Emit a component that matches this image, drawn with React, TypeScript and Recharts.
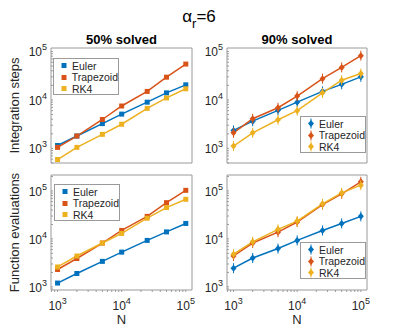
import React from 'react';
import { LineChart, Line, XAxis, YAxis, Legend, ReferenceArea } from 'recharts';

// problem sizes on the x axis
const N_VALUES = [1000, 2000, 5000, 10000, 25000, 50000, 100000];
const SERIES = ['Euler', 'Trapezoid', 'RK4'];
const COLORS = ['#0072BD', '#D95319', '#EDB120'];

// tick positions of a log axis: decades get a label, the rest are minor marks
const DECADE_TICKS = [1000, 10000, 100000];
const MINOR_TICKS = [
  500, 600, 700, 800, 900,
  2000, 3000, 4000, 5000, 6000, 7000, 8000, 9000,
  20000, 30000, 40000, 50000, 60000, 70000, 80000, 90000,
  200000,
];

// integration steps, 50% solved
const STEPS_50_EULER = [1150, 1800, 3250, 5100, 9000, 14000, 20500];
const STEPS_50_TRAP = [1050, 1800, 3950, 7500, 15000, 29500, 55000];
const STEPS_50_RK4 = [590, 1050, 1950, 3150, 6700, 11000, 17000];

// integration steps, 90% solved
const STEPS_90_EULER = [2350, 3650, 6100, 9000, 15000, 21000, 30000];
const STEPS_90_TRAP = [2100, 4100, 6900, 12000, 27500, 47000, 82000];
const STEPS_90_RK4 = [1120, 2100, 3900, 6000, 14000, 25500, 35000];

// function evaluations, 50% solved
const EVALS_50_EULER = [1200, 1900, 3400, 5300, 9300, 14000, 21000];
const EVALS_50_TRAP = [2300, 3900, 8200, 15000, 29500, 57000, 103000];
const EVALS_50_RK4 = [2600, 4400, 8200, 13000, 27000, 45000, 67000];

// function evaluations, 90% solved
const EVALS_90_EULER = [2450, 4000, 6300, 9300, 15000, 21000, 29500];
const EVALS_90_TRAP = [4400, 8200, 13800, 22500, 52000, 87000, 155000];
const EVALS_90_RK4 = [4800, 8700, 15800, 23500, 54000, 91000, 132000];

const X_DOMAIN = [790, 125000];
const Y_DOMAIN_STEPS = [500, 118000];
const Y_DOMAIN_EVALS = [860, 215000];

const FONT = '"Liberation Sans", Arial, sans-serif';
const INK = '#262626';
const FRAME = '#9a9a9a';

const AXIS_W = 36;
const PAD = 4;
const PAD_TOP = 12;
const BOX_H = 115;
const X_AXIS_H = 24;
const TICK_LEN = 2;

function buildRows(euler: number[], trap: number[], rk4: number[]) {
  return N_VALUES.map((n, i) => ({ n, Euler: euler[i], Trapezoid: trap[i], RK4: rk4[i] }));
}

function ticksIn(domain: number[]) {
  return [...DECADE_TICKS, ...MINOR_TICKS]
    .filter((t) => t >= domain[0] && t <= domain[1])
    .sort((a, b) => a - b);
}

const isDecade = (v: number) => DECADE_TICKS.includes(v);

function PowerLabel({ x, y, value, anchor, dy }: any) {
  return (
    <text x={x} y={y} dy={dy} textAnchor={anchor} fill={INK} fontSize={12} fontFamily={FONT}>
      10<tspan dy={-6} fontSize={9}>{Math.round(Math.log10(value))}</tspan>
    </text>
  );
}

// side: which box edge the axis sits on; marks point into the box
const EdgeTick = (props: any) => {
  const { x, y, payload, side, label } = props;
  const v = payload.value;
  let mark;
  if (side === 'bottom') mark = <line x1={x} x2={x} y1={y} y2={y - TICK_LEN} stroke={FRAME} />;
  else if (side === 'top') mark = <line x1={x} x2={x} y1={y} y2={y + TICK_LEN} stroke={FRAME} />;
  else if (side === 'left') mark = <line x1={x + 4} x2={x + 4 + TICK_LEN} y1={y} y2={y} stroke={FRAME} />;
  else mark = <line x1={x} x2={x - TICK_LEN} y1={y} y2={y} stroke={FRAME} />;
  return (
    <g>
      {mark}
      {label && isDecade(v) && side === 'bottom' && <PowerLabel x={x} y={y} value={v} anchor="middle" dy={18} />}
      {label && isDecade(v) && side === 'left' && <PowerLabel x={x} y={y} value={v} anchor="end" dy={5} />}
    </g>
  );
};

function Marker({ cx, cy, color, diamond }: { cx: number; cy: number; color: string; diamond: boolean }) {
  if (!diamond) {
    return <rect x={cx - 2.5} y={cy - 2.5} width={5} height={5} fill={color} />;
  }
  return (
    <g>
      <line x1={cx} x2={cx} y1={cy - 5} y2={cy + 5} stroke={color} strokeWidth={1} />
      <polygon points={`${cx},${cy - 3.5} ${cx + 3},${cy} ${cx},${cy + 3.5} ${cx - 3},${cy}`} fill={color} />
    </g>
  );
}

function LegendBox({ payload, diamond }: any) {
  const entries = [...(payload || [])].sort(
    (a: any, b: any) => SERIES.indexOf(a.value) - SERIES.indexOf(b.value)
  );
  return (
    <div
      style={{
        boxSizing: 'border-box',
        width: 66,
        height: 37,
        border: `1px solid ${FRAME}`,
        background: '#fff',
        padding: '1px 0 0 3px',
        fontFamily: FONT,
        fontSize: 10.5,
        color: INK,
      }}
    >
      {entries.map((e: any) => (
        <div key={e.value} style={{ display: 'flex', alignItems: 'center', height: 11.5 }}>
          <svg width={14} height={11} style={{ marginRight: 1 }}>
            <Marker cx={7} cy={5.5} color={e.color} diamond={diamond} />
          </svg>
          <span>{e.value}</span>
        </div>
      ))}
    </div>
  );
}

function Panel({
  left,
  top,
  width,
  rows,
  yDomain,
  showX,
  diamond,
  legendLeft,
  legendTop,
}: {
  left: number;
  top: number;
  width: number;
  rows: any[];
  yDomain: number[];
  showX: boolean;
  diamond: boolean;
  legendLeft: number;
  legendTop: number;
}) {
  const chartLeft = left - AXIS_W;
  const chartTop = top - PAD_TOP;
  const height = PAD_TOP + BOX_H + (showX ? X_AXIS_H : 0) + PAD;
  const xTicks = ticksIn(X_DOMAIN);
  const yTicks = ticksIn(yDomain);
  return (
    <div style={{ position: 'absolute', left: chartLeft, top: chartTop }}>
      <LineChart
        width={AXIS_W + width + PAD}
        height={height}
        data={rows}
        margin={{ top: PAD_TOP, right: PAD, bottom: PAD, left: 0 }}
      >
        <XAxis
          dataKey="n"
          type="number"
          scale="log"
          domain={X_DOMAIN}
          ticks={xTicks}
          interval={0}
          allowDataOverflow
          height={showX ? X_AXIS_H : 0}
          axisLine={false}
          tickLine={false}
          tickSize={0}
          tick={<EdgeTick side="bottom" label={showX} />}
        />
        <XAxis
          xAxisId="top"
          orientation="top"
          dataKey="n"
          type="number"
          scale="log"
          domain={X_DOMAIN}
          ticks={xTicks}
          interval={0}
          allowDataOverflow
          height={0}
          axisLine={false}
          tickLine={false}
          tickSize={0}
          tick={<EdgeTick side="top" />}
        />
        <YAxis
          type="number"
          scale="log"
          domain={yDomain}
          ticks={yTicks}
          interval={0}
          allowDataOverflow
          width={AXIS_W}
          axisLine={false}
          tickLine={false}
          tickSize={0}
          tickMargin={4}
          tick={<EdgeTick side="left" label />}
        />
        <YAxis
          yAxisId="right"
          orientation="right"
          type="number"
          scale="log"
          domain={yDomain}
          ticks={yTicks}
          interval={0}
          allowDataOverflow
          width={0}
          axisLine={false}
          tickLine={false}
          tickSize={0}
          tick={<EdgeTick side="right" />}
        />
        <ReferenceArea
          x1={X_DOMAIN[0]}
          x2={X_DOMAIN[1]}
          y1={yDomain[0]}
          y2={yDomain[1]}
          fill="none"
          stroke={FRAME}
          strokeWidth={1}
        />
        <Legend
          layout="vertical"
          align="center"
          verticalAlign="middle"
          wrapperStyle={{ left: legendLeft - chartLeft, top: legendTop - chartTop, width: 'auto', height: 'auto' }}
          content={(p: any) => <LegendBox payload={p.payload} diamond={diamond} />}
        />
        {SERIES.map((name, i) => (
          <Line
            key={name}
            dataKey={name}
            type="linear"
            stroke={COLORS[i]}
            strokeWidth={1.5}
            activeDot={false}
            isAnimationActive={false}
            dot={(d: any) => (
              <Marker key={`${name}-${d.index}`} cx={d.cx} cy={d.cy} color={COLORS[i]} diamond={diamond} />
            )}
          />
        ))}
      </LineChart>
    </div>
  );
}

export default function App() {
  return (
    <div
      style={{
        position: 'absolute',
        left: 0,
        top: 0,
        width: 399,
        height: 328,
        background: '#fff',
        overflow: 'hidden',
      }}
    >
      <Panel left={51} top={48} width={141} rows={buildRows(STEPS_50_EULER, STEPS_50_TRAP, STEPS_50_RK4)}
        yDomain={Y_DOMAIN_STEPS} showX={false} diamond={false} legendLeft={53} legendTop={58} />
      <Panel left={227} top={48} width={140} rows={buildRows(STEPS_90_EULER, STEPS_90_TRAP, STEPS_90_RK4)}
        yDomain={Y_DOMAIN_STEPS} showX={false} diamond legendLeft={300} legendTop={116} />
      <Panel left={51} top={175} width={141} rows={buildRows(EVALS_50_EULER, EVALS_50_TRAP, EVALS_50_RK4)}
        yDomain={Y_DOMAIN_EVALS} showX diamond={false} legendLeft={54} legendTop={184} />
      <Panel left={227} top={175} width={140} rows={buildRows(EVALS_90_EULER, EVALS_90_TRAP, EVALS_90_RK4)}
        yDomain={Y_DOMAIN_EVALS} showX diamond legendLeft={300} legendTop={242} />
      <svg width={399} height={328} style={{ position: 'absolute', left: 0, top: 0, pointerEvents: 'none' }}>
        <text x={199} y={22} textAnchor="middle" fontSize={17} fontFamily={FONT} fill="#000">
          α<tspan dy={6} fontSize={13}>r</tspan><tspan dy={-6}>=6</tspan>
        </text>
        <text x={121.5} y={44} textAnchor="middle" fontSize={13} fontWeight="bold" fontFamily={FONT} fill="#000">
          50% solved
        </text>
        <text x={297} y={44} textAnchor="middle" fontSize={13} fontWeight="bold" fontFamily={FONT} fill="#000">
          90% solved
        </text>
        <text transform="translate(19,105.5) rotate(-90)" textAnchor="middle" fontSize={13} fontFamily={FONT} fill={INK}>
          Integration steps
        </text>
        <text transform="translate(19,232.5) rotate(-90)" textAnchor="middle" fontSize={13} fontFamily={FONT} fill={INK}>
          Function evaluations
        </text>
        <text x={121.5} y={324} textAnchor="middle" fontSize={13} fontFamily={FONT} fill={INK}>N</text>
        <text x={297} y={324} textAnchor="middle" fontSize={13} fontFamily={FONT} fill={INK}>N</text>
      </svg>
    </div>
  );
}
